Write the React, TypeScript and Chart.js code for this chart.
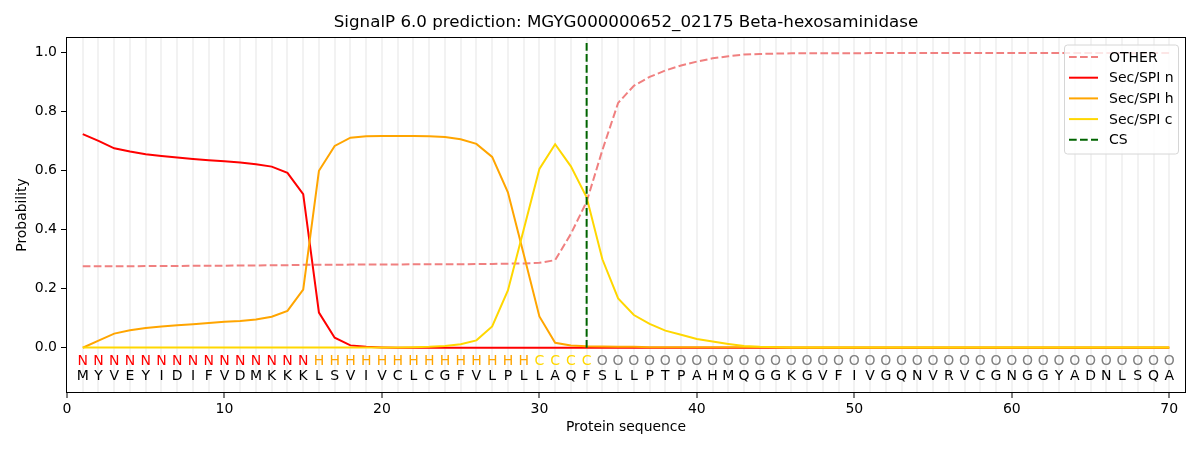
import { useEffect, useRef } from "react"
import { Chart, registerables, type ChartConfiguration, type Plugin } from "chart.js"

Chart.register(...registerables)

const TITLE = "SignalP 6.0 prediction: MGYG000000652_02175 Beta-hexosaminidase"

// protein sequence and per-residue predicted region
const SEQUENCE = "MYVEYIDIFVDMKKKLSVIVCLCGFVLPLLAQFSLLPTPAHMQGGKGVFIVGQNVRVCGNGGYADNLSQA".split("")
const REGIONS = "NNNNNNNNNNNNNNNHHHHHHHHHHHHHHCCCCOOOOOOOOOOOOOOOOOOOOOOOOOOOOOOOOOOOOO".split("")

const OTHER = [
  0.276, 0.276, 0.276, 0.276, 0.277, 0.277, 0.277, 0.278, 0.278, 0.278,
  0.279, 0.279, 0.28, 0.28, 0.281, 0.281, 0.281, 0.282, 0.282, 0.282,
  0.282, 0.283, 0.283, 0.283, 0.283, 0.284, 0.284, 0.285, 0.286, 0.288,
  0.297, 0.386, 0.495, 0.67, 0.83, 0.888, 0.918, 0.94, 0.957, 0.97,
  0.981, 0.988, 0.994, 0.996, 0.997, 0.998, 0.998, 0.998, 0.998, 0.998,
  0.999, 0.999, 0.999, 0.999, 0.999, 0.999, 0.999, 0.999, 0.999, 0.999,
  0.999, 0.999, 0.999, 0.999, 0.999, 0.999, 0.999, 0.999, 0.999, 0.999,
]

const SEC_N = [
  0.724, 0.701, 0.676, 0.665, 0.656, 0.65, 0.645, 0.64, 0.636, 0.632,
  0.628, 0.622, 0.614, 0.593, 0.521, 0.119, 0.034, 0.008, 0.003, 0.001,
  0, 0, 0, 0, 0, 0, 0, 0, 0, 0,
  0, 0, 0, 0, 0, 0, 0, 0, 0, 0,
  0, 0, 0, 0, 0, 0, 0, 0, 0, 0,
  0, 0, 0, 0, 0, 0, 0, 0, 0, 0,
  0, 0, 0, 0, 0, 0, 0, 0, 0, 0,
]

const SEC_H = [
  0, 0.024, 0.048, 0.059, 0.067, 0.072, 0.076, 0.08, 0.084, 0.088,
  0.091, 0.096, 0.105, 0.125, 0.197, 0.6, 0.684, 0.712, 0.717, 0.718,
  0.718, 0.718, 0.717, 0.714, 0.707, 0.691, 0.647, 0.527, 0.318, 0.106,
  0.017, 0.008, 0.005, 0.004, 0.003, 0.003, 0.002, 0.002, 0.002, 0.002,
  0.002, 0.002, 0.002, 0.002, 0.002, 0.001, 0.001, 0.001, 0.001, 0.001,
  0.001, 0.001, 0.001, 0.001, 0.001, 0.001, 0.001, 0.001, 0.001, 0.001,
  0.001, 0.001, 0.001, 0.001, 0.001, 0.001, 0.001, 0.001, 0.001, 0.001,
]

const SEC_C = [
  0.001, 0.001, 0.001, 0.001, 0.001, 0.001, 0.001, 0.001, 0.001, 0.001,
  0.001, 0.001, 0.001, 0.001, 0.001, 0.001, 0.001, 0.001, 0.001, 0.001,
  0.001, 0.002, 0.003, 0.006, 0.012, 0.025, 0.072, 0.194, 0.4, 0.606,
  0.69, 0.615, 0.51, 0.3, 0.167, 0.111, 0.081, 0.058, 0.044, 0.03,
  0.021, 0.013, 0.006, 0.003, 0.002, 0.001, 0.001, 0.001, 0.001, 0.001,
  0.001, 0.001, 0.001, 0.001, 0.001, 0.001, 0.001, 0.001, 0.001, 0.001,
  0.001, 0.001, 0.001, 0.001, 0.001, 0.001, 0.001, 0.001, 0.001, 0.001,
]

const CS_POS = 33
const CS_TOP = 1.042

const X_TICKS = Array.from({ length: 72 }, (_, i) => i)
const Y_TICKS = [0, 0.2, 0.4, 0.6, 0.8, 1.0]

const FONT = "'DejaVu Sans', sans-serif"
const DASH = [7.7, 3.3]

const REGION_COLORS: Record<string, string> = {
  N: "#ff0000",
  H: "#ffa500",
  C: "#ffd700",
  O: "#808080",
}

const LEGEND_ITEMS = [
  { label: "OTHER", color: "#f08080", dash: DASH },
  { label: "Sec/SPI n", color: "#ff0000", dash: [] as number[] },
  { label: "Sec/SPI h", color: "#ffa500", dash: [] as number[] },
  { label: "Sec/SPI c", color: "#ffd700", dash: [] as number[] },
  { label: "CS", color: "#006400", dash: DASH },
]

const toPoints = (values: number[]) => values.map((y, i) => ({ x: i + 1, y }))

// sequence letters under the curves, legend, frame and titles
const decorations: Plugin<"line"> = {
  id: "decorations",
  afterDatasetsDraw(chart) {
    const { ctx, scales } = chart
    const x = scales.x
    const y = scales.y
    ctx.save()
    ctx.font = `14px ${FONT}`
    ctx.textAlign = "center"
    ctx.textBaseline = "middle"
    SEQUENCE.forEach((aa, i) => {
      const px = x.getPixelForValue(i + 1)
      ctx.fillStyle = REGION_COLORS[REGIONS[i]]
      ctx.fillText(REGIONS[i], px, y.getPixelForValue(-0.046))
      ctx.fillStyle = "#000"
      ctx.fillText(aa, px, y.getPixelForValue(-0.097))
    })
    ctx.restore()
  },
  afterDraw(chart) {
    const { ctx, chartArea } = chart
    const { left, right, top, bottom } = chartArea
    ctx.save()

    // legend
    const lw = 114
    const lh = 109
    const lx = right - 7 - lw
    const ly = top + 6.5
    ctx.beginPath()
    ctx.roundRect(lx + 0.5, ly + 0.5, lw, lh, 3)
    ctx.fillStyle = "rgba(255,255,255,0.8)"
    ctx.fill()
    ctx.strokeStyle = "#d6d6d6"
    ctx.lineWidth = 1
    ctx.stroke()
    ctx.font = `14px ${FONT}`
    ctx.textAlign = "left"
    ctx.textBaseline = "middle"
    LEGEND_ITEMS.forEach((item, i) => {
      const ry = ly + 12.5 + i * 20.7
      ctx.beginPath()
      ctx.setLineDash(item.dash)
      ctx.strokeStyle = item.color
      ctx.lineWidth = 2
      ctx.moveTo(lx + 5, ry)
      ctx.lineTo(lx + 34, ry)
      ctx.stroke()
      ctx.setLineDash([])
      ctx.fillStyle = "#000"
      ctx.fillText(item.label, lx + 45, ry + 1)
    })

    // frame
    ctx.strokeStyle = "#000"
    ctx.lineWidth = 1
    ctx.strokeRect(Math.round(left) - 0.5, Math.round(top) - 0.5, Math.round(right - left) + 1, Math.round(bottom - top) + 1)

    // titles
    ctx.fillStyle = "#000"
    ctx.textAlign = "center"
    ctx.textBaseline = "middle"
    ctx.font = `16.7px ${FONT}`
    ctx.fillText(TITLE, (left + right) / 2, 23)
    ctx.font = `13.9px ${FONT}`
    ctx.fillText("Protein sequence", (left + right) / 2, 427)
    ctx.translate(22, (top + bottom) / 2)
    ctx.rotate(-Math.PI / 2)
    ctx.fillText("Probability", 0, 0)
    ctx.restore()
  },
}

function SignalPChart() {
  const chartRef = useRef<HTMLCanvasElement>(null)
  const chartInstance = useRef<Chart | null>(null)

  useEffect(() => {
    if (!chartRef.current) return
    const ctx = chartRef.current.getContext("2d")
    if (!ctx) return

    if (chartInstance.current) {
      chartInstance.current.destroy()
    }

    Chart.defaults.font.family = FONT
    Chart.defaults.font.size = 14
    Chart.defaults.color = "#000"

    const line = (label: string, values: number[], color: string, order: number, dash: number[] = []) => ({
      label,
      data: toPoints(values),
      borderColor: color,
      backgroundColor: color,
      borderWidth: 2,
      borderDash: dash,
      pointRadius: 0,
      tension: 0,
      fill: false,
      order,
    })

    const config: ChartConfiguration<"line"> = {
      type: "line",
      data: {
        datasets: [
          line("OTHER", OTHER, "#f08080", 5, DASH),
          line("Sec/SPI n", SEC_N, "#ff0000", 4),
          line("Sec/SPI h", SEC_H, "#ffa500", 3),
          line("Sec/SPI c", SEC_C, "#ffd700", 2),
          {
            label: "CS",
            data: [
              { x: CS_POS, y: 0 },
              { x: CS_POS, y: CS_TOP },
            ],
            borderColor: "#006400",
            backgroundColor: "#006400",
            borderWidth: 2,
            borderDash: DASH,
            pointRadius: 0,
            fill: false,
            order: 1,
          },
        ],
      },
      options: {
        responsive: true,
        maintainAspectRatio: false,
        animation: false,
        layout: { padding: { top: 38, right: 15, left: 0, bottom: 0 } },
        plugins: {
          legend: { display: false },
          title: { display: false },
          tooltip: { enabled: false },
        },
        scales: {
          x: {
            type: "linear",
            min: 0,
            max: 71,
            afterBuildTicks: (scale) => {
              scale.ticks = X_TICKS.map((value) => ({ value }))
            },
            afterFit: (scale) => {
              scale.height = 58
            },
            ticks: {
              autoSkip: false,
              maxRotation: 0,
              padding: 3,
              callback: (v) => (Number(v) % 10 === 0 ? String(v) : ""),
            },
            grid: {
              drawOnChartArea: true,
              lineWidth: 2,
              tickLength: 6,
              color: (c) => (c.tick && c.tick.value >= 1 && c.tick.value <= 70 ? "rgba(0,0,0,0.05)" : "rgba(0,0,0,0)"),
              tickColor: (c) => (c.tick && c.tick.value % 10 === 0 ? "#000" : "rgba(0,0,0,0)"),
              tickWidth: 1,
            },
            border: { display: false },
          },
          y: {
            type: "linear",
            min: -0.15,
            max: 1.05,
            afterBuildTicks: (scale) => {
              scale.ticks = Y_TICKS.map((value) => ({ value }))
            },
            afterFit: (scale) => {
              scale.width = 67
            },
            ticks: {
              padding: 4,
              callback: (v) => Number(v).toFixed(1),
            },
            grid: {
              drawOnChartArea: false,
              tickLength: 6,
              tickColor: "#000",
              tickWidth: 1,
            },
            border: { display: false },
          },
        },
      },
      plugins: [decorations],
    }

    chartInstance.current = new Chart(ctx, config)

    return () => {
      if (chartInstance.current) {
        chartInstance.current.destroy()
        chartInstance.current = null
      }
    }
  }, [])

  return <canvas ref={chartRef} />
}

export default function App() {
  return (
    <div style={{ position: "fixed", left: 0, top: 0, width: 1200, height: 450, background: "#fff" }}>
      <SignalPChart />
    </div>
  )
}
